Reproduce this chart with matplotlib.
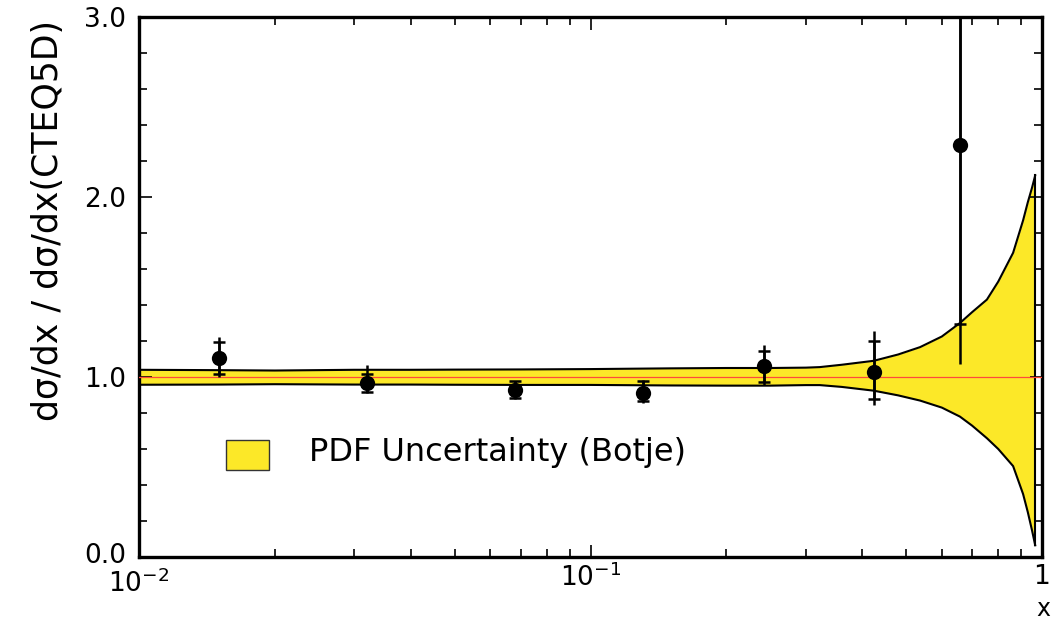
import matplotlib

matplotlib.use("Agg")
import matplotlib.pyplot as plt
import numpy as np
from matplotlib.patches import Rectangle
from matplotlib.ticker import FixedLocator, LogLocator, MultipleLocator, NullFormatter
from matplotlib.transforms import ScaledTranslation

# measured ratios (data / CTEQ5D)
x_points = [0.015, 0.032, 0.068, 0.131, 0.242, 0.424, 0.658]
ratio = [1.107, 0.965, 0.930, 0.913, 1.061, 1.027, 2.29]
stat_hi = [1.196, 1.017, 0.977, 0.980, 1.147, 1.200, 3.40]
stat_lo = [1.015, 0.915, 0.884, 0.868, 0.975, 0.880, 1.295]
total_hi = [1.224, 1.067, 0.980, 0.982, 1.178, 1.253, 3.60]
total_lo = [1.000, 0.912, 0.880, 0.853, 0.956, 0.843, 1.070]

# PDF uncertainty band (Botje)
band_x = [0.01, 0.015, 0.02, 0.03, 0.04, 0.05, 0.07, 0.1, 0.15, 0.2, 0.25,
          0.3, 0.322, 0.36, 0.424, 0.48, 0.537, 0.6, 0.658, 0.7, 0.755,
          0.8, 0.863, 0.908, 0.93, 0.95, 0.966]
band_hi = [1.040, 1.038, 1.036, 1.040, 1.040, 1.041, 1.042, 1.044, 1.048,
           1.050, 1.050, 1.052, 1.055, 1.068, 1.090, 1.125, 1.166, 1.225,
           1.300, 1.360, 1.430, 1.530, 1.690, 1.870, 1.970, 2.050, 2.120]
band_lo = [0.957, 0.958, 0.960, 0.958, 0.958, 0.957, 0.956, 0.956, 0.953,
           0.952, 0.952, 0.955, 0.955, 0.945, 0.924, 0.898, 0.869, 0.830,
           0.780, 0.730, 0.660, 0.600, 0.505, 0.350, 0.250, 0.150, 0.065]

y_ticks = [0.0, 1.0, 2.0, 3.0]
y_tick_labels = ["0.0", "1.0", "2.0", "3.0"]
x_ticks = [0.01, 0.1, 1.0]
x_tick_labels = ["$10^{-2}$", "$10^{-1}$", "1"]

YELLOW = "#fce828"


def shift_label(label, fig, dy_pt):
    label.set_transform(label.get_transform() + ScaledTranslation(0, dy_pt / 72, fig.dpi_scale_trans))


def main() -> None:
    plt.rcParams["font.family"] = ["DejaVu Sans"]
    plt.rcParams["mathtext.default"] = "regular"

    fig = plt.figure(figsize=(10.52, 6.22), dpi=100)
    ax = fig.add_axes([139 / 1052, 65 / 622, 903 / 1052, 540 / 622])

    ax.fill_between(band_x, band_lo, band_hi, color=YELLOW, lw=0, zorder=1)
    ax.plot(band_x, band_hi, color="black", lw=1.5, zorder=2)
    ax.plot(band_x, band_lo, color="black", lw=1.5, zorder=2)
    ax.plot([band_x[-1], band_x[-1]], [band_lo[-1], band_hi[-1]], color="black", lw=1.5, zorder=2)
    ax.axhline(1.0, color="#ff4a3a", lw=0.9, zorder=3)

    y = np.array(ratio)
    ax.errorbar(
        x_points, y,
        yerr=[y - np.array(total_lo), np.array(total_hi) - y],
        fmt="none", ecolor="black", elinewidth=1.8, capsize=0, zorder=4,
    )
    ax.errorbar(
        x_points, y,
        yerr=[y - np.array(stat_lo), np.array(stat_hi) - y],
        fmt="none", ecolor="black", elinewidth=1.8, capsize=4.5, capthick=1.8, zorder=4,
    )
    ax.plot(x_points, y, "o", color="black", ms=11, mew=0, zorder=5)

    ax.set_xscale("log")
    ax.set_xlim(0.01, 1.0)
    ax.set_ylim(0.0, 3.0)

    ax.xaxis.set_major_locator(FixedLocator(x_ticks))
    ax.set_xticklabels(x_tick_labels)
    ax.xaxis.set_minor_locator(LogLocator(base=10, subs=np.arange(2, 10)))
    ax.xaxis.set_minor_formatter(NullFormatter())
    ax.yaxis.set_major_locator(FixedLocator(y_ticks))
    ax.set_yticklabels(y_tick_labels)
    ax.yaxis.set_minor_locator(MultipleLocator(0.2))

    ax.tick_params(which="both", direction="in", top=True, right=True,
                   width=1.2, labelsize=19, colors="black")
    ax.tick_params(which="major", length=9)
    ax.tick_params(which="minor", length=6)
    ax.tick_params(axis="x", which="major", pad=5)
    ax.tick_params(axis="y", which="major", pad=9)
    for spine in ax.spines.values():
        spine.set_linewidth(2.4)

    # keep the corner labels "0.0" and "10^-2" apart
    shift_label(ax.get_yticklabels()[0], fig, 3)
    shift_label(ax.get_xticklabels()[0], fig, -4)

    # legend drawn ROOT-style: a box and a label inside the frame
    ax.add_patch(Rectangle((0.0963, 0.161), 0.0476, 0.0556, transform=ax.transAxes,
                           facecolor=YELLOW, edgecolor="#333333", lw=1.0, zorder=6))
    ax.text(0.1880, 0.194, "PDF Uncertainty (Botje)", transform=ax.transAxes,
            fontsize=23, ha="left", va="center", zorder=6)

    fig.text(48 / 1052, 1 - 20 / 622, "dσ/dx / dσ/dx(CTEQ5D)", rotation=90,
             ha="center", va="top", fontsize=25)
    fig.text(1050 / 1052, 1.2 / 622, "x", ha="right", va="bottom", fontsize=17)

    fig.savefig("out.png", dpi=100)
    plt.close(fig)


if __name__ == "__main__":
    main()
